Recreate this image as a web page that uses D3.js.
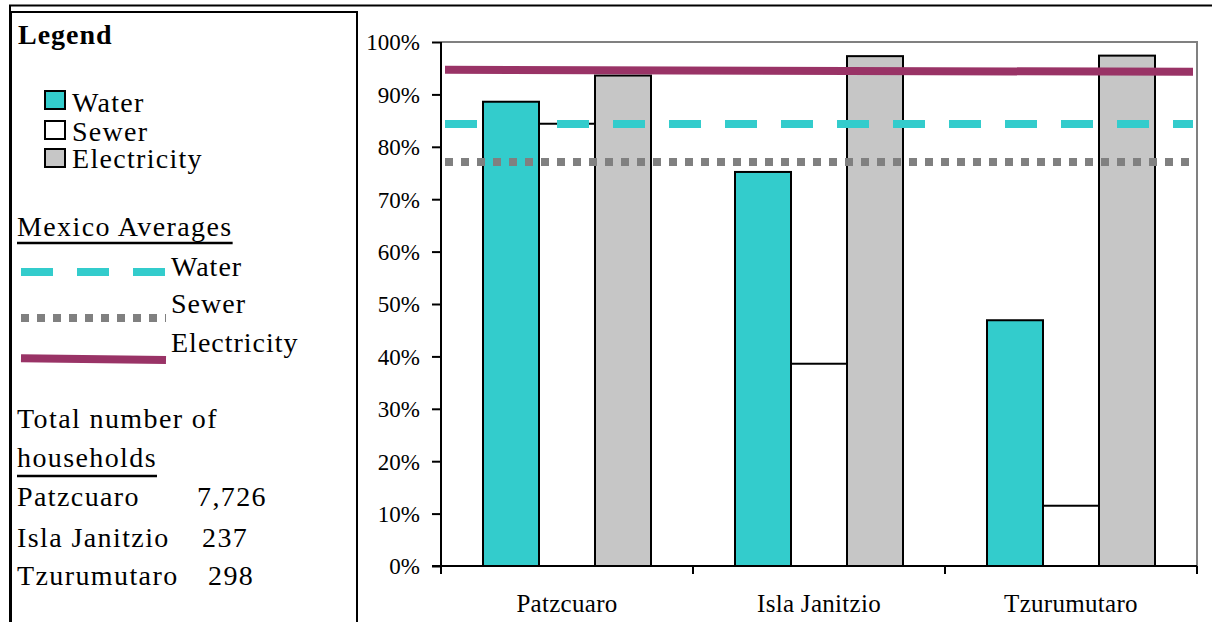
<!DOCTYPE html>
<html>
<head>
<meta charset="utf-8">
<script src="https://cdn.jsdelivr.net/npm/d3@7"></script>
<style>
  html, body { margin: 0; padding: 0; background: #fff; }
  svg { display: block; }
  text { font-family: "Liberation Serif", "Times New Roman", serif; fill: #000; }
</style>
</head>
<body>
<svg id="chart" width="1212" height="622"></svg>
<script>
// Share of households with each service, by community
const categories = ["Patzcuaro", "Isla Janitzio", "Tzurumutaro"];
const seriesNames = ["Water", "Sewer", "Electricity"];
const water = [0.886, 0.752, 0.469];
const sewer = [0.844, 0.386, 0.115];
const electricity = [0.936, 0.973, 0.974];

// National averages (value at left end, value at right end)
const avgWater = [0.8435, 0.8435];
const avgSewer = [0.771, 0.771];
const avgElectricity = [0.947, 0.943];

const yTicks = [0, 0.1, 0.2, 0.3, 0.4, 0.5, 0.6, 0.7, 0.8, 0.9, 1.0];

// Household totals
const householdPlaces = ["Patzcuaro", "Isla Janitzio", "Tzurumutaro"];
const householdCounts = ["7,726", "237", "298"];

const colors = { Water: "#33CCCC", Sewer: "#FFFFFF", Electricity: "#C6C6C6" };
const avgColors = { Water: "#33CCCC", Sewer: "#808080", Electricity: "#993366" };

const svg = d3.select("#chart");

// ---- frames ----
svg.append("rect").attr("x", 10).attr("y", 5.5).attr("width", 1220).attr("height", 640)
  .attr("fill", "none").attr("stroke", "#000").attr("stroke-width", 2);
svg.append("rect").attr("x", 11).attr("y", 12).attr("width", 346).attr("height", 640)
  .attr("fill", "#fff").attr("stroke", "#000").attr("stroke-width", 2);

// ---- plot ----
const plot = { left: 441, right: 1197, top: 42, bottom: 566 };
const x = d3.scaleBand().domain(categories).range([plot.left, plot.right]).paddingInner(0).paddingOuter(0);
const y = d3.scaleLinear().domain([0, 1]).range([plot.bottom, plot.top]);
const xSub = d3.scaleBand().domain(seriesNames).range([0, x.bandwidth()]).paddingInner(0).paddingOuter(0.75);

// gray plot border (top and right)
svg.append("path")
  .attr("d", `M${plot.left},${y(1)}H${plot.right}V${plot.bottom}`)
  .attr("fill", "none").attr("stroke", "#808080").attr("stroke-width", 2);

// bars
const seriesValues = { Water: water, Sewer: sewer, Electricity: electricity };
const barData = [];
categories.forEach((c, i) => {
  seriesNames.forEach(s => barData.push({ cat: c, series: s, value: seriesValues[s][i] }));
});
svg.append("g").selectAll("rect").data(barData).join("rect")
  .attr("x", d => x(d.cat) + xSub(d.series))
  .attr("y", d => y(d.value))
  .attr("width", xSub.bandwidth())
  .attr("height", d => y(0) - y(d.value))
  .attr("fill", d => colors[d.series])
  .attr("stroke", "#000").attr("stroke-width", 2);

// average lines across the plot
const xLine = d3.scaleLinear().domain([0, 1]).range([plot.left + 4, plot.right - 4]);
const avgLines = [
  { name: "Electricity", values: avgElectricity, width: 8, dash: null },
  { name: "Water", values: avgWater, width: 8, dash: "32,24" },
  { name: "Sewer", values: avgSewer, width: 8, dash: "8,8" }
];
const lineGen = d3.line().x((d, i) => xLine(i)).y(d => y(d));
svg.append("g").selectAll("path").data(avgLines).join("path")
  .attr("d", d => lineGen(d.values))
  .attr("fill", "none")
  .attr("stroke", d => avgColors[d.name])
  .attr("stroke-width", d => d.width)
  .attr("stroke-dasharray", d => d.dash);

// y axis
const yAxis = d3.axisLeft(y).tickValues(yTicks).tickFormat(d3.format(".0%")).tickSize(9).tickPadding(12);
const gy = svg.append("g").attr("transform", `translate(${plot.left},0)`).call(yAxis);
gy.select(".domain").attr("stroke", "#000").attr("stroke-width", 2).attr("d", `M-9,${plot.bottom}H0V${plot.top}`);
gy.selectAll(".tick line").attr("stroke", "#000").attr("stroke-width", 2);
gy.selectAll(".tick text").attr("font-size", 23).attr("font-family", "'Liberation Serif', 'Times New Roman', serif")
  .attr("dy", "0.34em").attr("fill", "#000");

// x axis
const xAxis = d3.axisBottom(x).tickSize(0).tickPadding(0);
const gx = svg.append("g").attr("transform", `translate(0,${plot.bottom})`).call(xAxis);
gx.select(".domain").attr("stroke", "#000").attr("stroke-width", 2).attr("d", `M${plot.left},0H${plot.right}`);
gx.selectAll(".tick text").attr("font-size", 25).attr("letter-spacing", 0.3)
  .attr("font-family", "'Liberation Serif', 'Times New Roman', serif")
  .attr("y", 46).attr("dy", 0).attr("fill", "#000");
// category separators
const boundaries = categories.map(c => x(c)).concat([plot.right]);
gx.selectAll("line.sep").data(boundaries).join("line").attr("class", "sep")
  .attr("x1", d => d).attr("x2", d => d).attr("y1", 0).attr("y2", 8)
  .attr("stroke", "#000").attr("stroke-width", 2);

// ---- legend panel ----
const lg = svg.append("g").attr("font-size", 28).attr("letter-spacing", 1.4);

lg.append("text").attr("x", 18).attr("y", 44).attr("font-weight", "bold").attr("letter-spacing", 1).text("Legend");

const swatchY = [91, 121, 149];
const labelY = [112, 141, 168];
seriesNames.forEach((s, i) => {
  lg.append("rect").attr("x", 45).attr("y", swatchY[i]).attr("width", 20).attr("height", 18)
    .attr("fill", colors[s]).attr("stroke", "#000").attr("stroke-width", 2);
  lg.append("text").attr("x", 72).attr("y", labelY[i]).attr("letter-spacing", 1.3).text(s);
});

function underlined(txt, xPos, yPos, uY) {
  const t = lg.append("text").attr("x", xPos).attr("y", yPos).text(txt);
  const w = t.node().getComputedTextLength();
  lg.append("line").attr("x1", xPos).attr("x2", xPos + w).attr("y1", uY).attr("y2", uY)
    .attr("stroke", "#000").attr("stroke-width", 2.5);
}
underlined("Mexico Averages", 17, 236, 243);

// average line samples
const xLeg = d3.scaleLinear().domain([0, 1]).range([21, 166]);
const legendAvg = [
  { name: "Water", yPos: 272, tilt: 0, dash: "32,24" },
  { name: "Sewer", yPos: 318, tilt: 0, dash: "8,8" },
  { name: "Electricity", yPos: 358.3, tilt: 1.7, dash: null }
];
lg.selectAll("path.legline").data(legendAvg).join("path").attr("class", "legline")
  .attr("d", d => `M${xLeg(0)},${d.yPos}L${xLeg(1)},${d.yPos + d.tilt}`)
  .attr("fill", "none").attr("stroke", d => avgColors[d.name]).attr("stroke-width", 8)
  .attr("stroke-dasharray", d => d.dash);
const avgLabelY = [276, 313, 352];
legendAvg.forEach((d, i) => {
  lg.append("text").attr("x", 171).attr("y", avgLabelY[i]).attr("letter-spacing", 1.0).text(d.name);
});

// household totals
lg.append("text").attr("x", 17).attr("y", 428).text("Total number of");
underlined("households", 17, 467, 476);
const rowY = [506, 546.5, 585];
const countX = [197, 202, 208];
householdPlaces.forEach((p, i) => {
  lg.append("text").attr("x", 17).attr("y", rowY[i]).text(p);
  lg.append("text").attr("x", countX[i]).attr("y", rowY[i]).text(householdCounts[i]);
});
</script>
</body>
</html>
